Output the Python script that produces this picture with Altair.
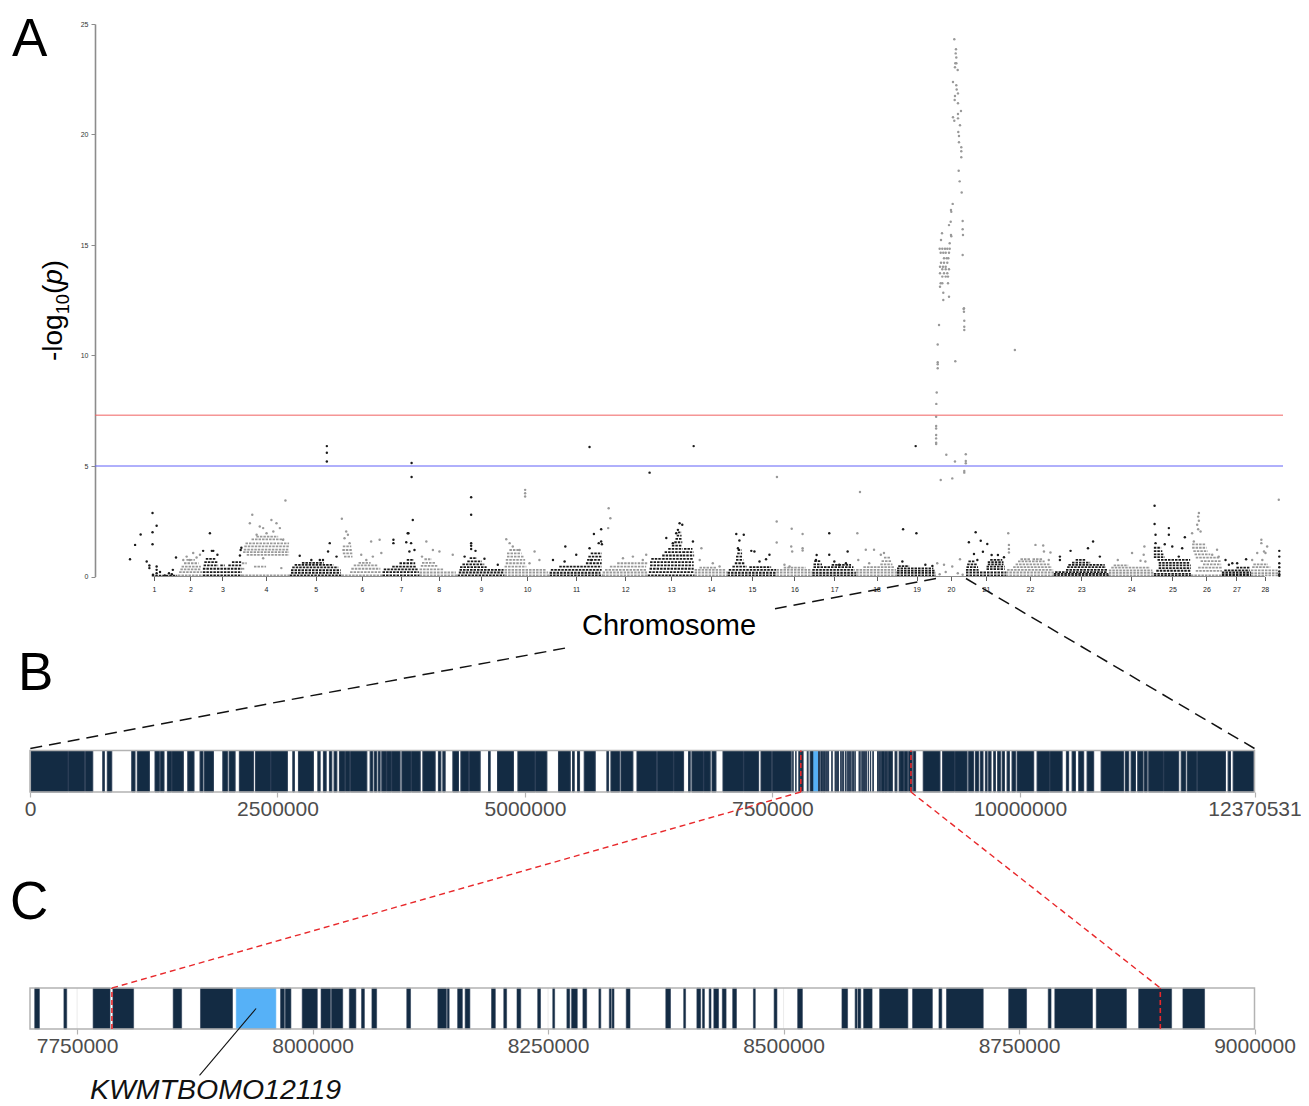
import altair as alt
import pandas as pd

# ======================= DATA =======================
CHROM_LEN_MB = [19.8, 10.3, 16.1, 19.8, 21.4, 16.9, 15.3, 15.7, 19.4, 18.6,
                21.9, 18.6, 19.4, 13.6, 20.2, 14.8, 18.1, 16.9, 16.1, 12.37,
                16.5, 19.8, 22.7, 18.6, 15.3, 12.8, 12.0, 11.5]
UNPLACED_LEN_MB = 0.5

# single SNPs (position in Mb within chromosome, -log10 p)
SNP_POINTS = {
    1: [(0.0, 0.78), (2.1, 1.43), (4.4, 1.9), (6.9, 0.68), (8.0, 0.5), (8.0, 0.38), (9.3, 2.87), (9.3, 2.0),
        (9.3, 1.46), (11.0, 2.3), (11.0, 0.45), (11.0, 0.3), (11.0, 0.15), (9.5, 0.08), (19.0, 0.86), (17.7, 0.3),
        (16.1, 0.15), (17.3, 0.1), (14.4, 0.05), (12.4, 0.2)],
    2: [(3.6, 0.9), (4.9, 0.75), (7.7, 0.86), (2.2, 0.75), (9.1, 0.98), (6.3, 1.06)],
    3: [(2.9, 1.96), (4.3, 1.16), (0.1, 1.16), (3.7, 1.16), (15.6, 1.2), (15.9, 1.3), (15.3, 0.95), (6.0, 0.98)],
    4: [(4.3, 2.79), (3.3, 2.41), (7.4, 2.26), (8.8, 2.19), (12.2, 2.56), (14.3, 2.41), (15.7, 2.19), (6.1, 1.89),
        (18.0, 3.44), (17.0, 1.66), (10.2, 1.96), (13.0, 2.04), (8.8, 0.83), (16.3, 0.38)],
    5: [(4.1, 0.94), (8.9, 0.75), (12.4, 0.75), (13.7, 0.75), (15.8, 1.13), (16.5, 1.51), (19.3, 0.9),
        (15.3, 5.9), (15.3, 5.6), (15.3, 5.2)],
    6: [(0.1, 2.61), (1.9, 2.04), (2.6, 1.89), (1.2, 1.73), (3.3, 1.51), (8.1, 0.98), (10.2, 0.75), (12.2, 1.58),
        (15.7, 1.66), (16.4, 1.06), (12.9, 0.9)],
    7: [(4.5, 1.66), (4.5, 1.51), (10.4, 1.96), (10.7, 1.96), (12.5, 2.56), (9.8, 1.55), (11.8, 1.51), (11.1, 1.13),
        (13.2, 1.2), (12.0, 5.14), (12.0, 4.5)],
    8: [(2.8, 1.58), (5.5, 1.2), (8.2, 1.13), (13.7, 0.98), (1.0, 0.9)],
    9: [(5.6, 3.59), (5.6, 2.79), (5.6, 1.51), (5.6, 1.39), (5.6, 1.24), (7.4, 1.16), (11.1, 0.8), (16.6, 0.53),
        (2.9, 0.9)],
    10: [(0.7, 1.69), (2.1, 1.51), (3.4, 1.36), (6.2, 1.2), (8.5, 3.92), (8.5, 3.77), (8.5, 3.62), (12.4, 1.13),
         (14.4, 0.75), (10.3, 0.6)],
    11: [(1.4, 0.75), (6.2, 0.68), (6.5, 1.36), (11.0, 0.98), (16.5, 1.28), (18.3, 1.92), (20.3, 1.51),
         (21.3, 2.14), (21.3, 1.58), (21.6, 1.46), (17.2, 0.75), (16.5, 5.86)],
    12: [(2.5, 3.09), (3.2, 2.64), (2.3, 2.19), (8.4, 0.83), (12.5, 0.9), (16.6, 0.75), (18.0, 0.98)],
    13: [(7.7, 1.74), (12.5, 2.11), (13.2, 2.41), (14.3, 2.34), (18.7, 1.58), (11.8, 1.96), (10.4, 1.51),
         (0.8, 4.7), (19.0, 5.9)],
    14: [(2.8, 1.28), (2.1, 0.75), (7.5, 0.6), (10.3, 0.45)],
    15: [(3.6, 1.92), (4.9, 1.63), (6.7, 1.89), (4.3, 1.28), (9.8, 1.16), (11.1, 1.13), (15.9, 0.78), (17.3, 0.98),
         (13.2, 0.68)],
    16: [(0.1, 2.49), (0.1, 1.54), (6.3, 2.16), (6.1, 1.36), (6.5, 1.13), (10.8, 1.92), (10.8, 1.28), (10.8, 1.18),
         (3.3, 0.53), (5.4, 0.45), (0.2, 4.5)],
    17: [(1.8, 0.97), (7.0, 1.96), (7.0, 0.98), (9.1, 0.68), (11.1, 0.53), (14.6, 1.13), (13.9, 0.6), (1.5, 0.75)],
    18: [(1.6, 3.82), (0.5, 1.96), (4.0, 1.21), (7.4, 1.21), (0.9, 0.75), (10.2, 0.98), (11.5, 1.06), (5.4, 0.6)],
    19: [(2.5, 2.14), (8.0, 1.96), (2.2, 0.68), (11.7, 0.53), (14.6, 0.48), (7.7, 5.9)],
    20: [(7.55, 24.31), (8.25, 23.86), (8.12, 23.67), (8.37, 23.48), (7.96, 23.22), (8.4, 23.22), (7.83, 23.04),
         (8.95, 22.92), (7.01, 22.38), (8.37, 22.23), (8.53, 22.04), (9.07, 21.86), (7.83, 21.74), (7.71, 21.56),
         (9.07, 21.41), (10.31, 21.06), (9.07, 20.93), (7.01, 20.78), (9.07, 20.73), (7.55, 20.62), (9.9, 20.42),
         (9.19, 20.11), (9.48, 19.93), (9.48, 19.65), (10.43, 19.42), (10.43, 19.24), (10.43, 18.97), (9.36, 18.36),
         (9.77, 17.88), (10.6, 17.38), (6.89, 16.86), (6.18, 16.58), (6.3, 16.5), (6.06, 16.05), (11.0, 16.09),
         (5.36, 15.9), (11.0, 15.71), (6.18, 15.45), (6.3, 15.4), (11.13, 15.45), (2.47, 15.53), (2.06, 15.23),
         (5.65, 15.08), (11.0, 14.55),
         (1.51, 14.83), (2.6, 14.83), (3.71, 14.83), (4.66, 14.83), (5.65, 14.83),
         (1.92, 14.65), (3.0, 14.65), (4.0, 14.65), (5.36, 14.65),
         (3.3, 14.4), (4.4, 14.4), (5.07, 14.4),
         (2.06, 14.2), (3.3, 14.2), (4.66, 14.2),
         (1.65, 14.02), (2.89, 14.02), (4.0, 14.02),
         (2.6, 13.9), (4.0, 13.9), (5.36, 13.9),
         (1.65, 13.72), (3.3, 13.72), (4.66, 13.72),
         (2.6, 13.57), (4.0, 13.57), (4.95, 13.57),
         (1.92, 13.27), (2.6, 13.27), (4.95, 13.27),
         (1.65, 13.11), (3.0, 12.84), (5.36, 12.66), (3.0, 12.51),
         (11.42, 12.1), (11.54, 12.14), (11.54, 11.98), (11.67, 11.57), (11.67, 11.3), (11.67, 11.15),
         (1.24, 11.38), (0.7, 10.5), (0.7, 9.7), (0.7, 9.6), (0.7, 9.42), (7.96, 9.74), (0.29, 8.33), (0.12, 7.81),
         (0.05, 7.23), (0.05, 6.81), (0.05, 6.7), (0.05, 6.4), (0.05, 6.25), (0.05, 6.05), (0.05, 6.0),
         (4.25, 5.51), (7.83, 5.2), (12.3, 5.53), (12.3, 5.23), (12.3, 5.12), (11.67, 4.77), (11.67, 4.7),
         (1.94, 4.37), (6.72, 4.44), (9.9, 0.78), (3.3, 0.53), (6.7, 0.45), (0.5, 0.6), (1.5, 0.1), (4.0, 0.2),
         (9.0, 0.15), (11.0, 0.08)],
    21: [(4.0, 2.0), (1.2, 1.55), (6.1, 1.62), (8.8, 1.47), (7.0, 1.12), (3.3, 1.02), (4.7, 0.75), (10.6, 0.97),
         (13.2, 0.97), (15.7, 0.87)],
    22: [(0.96, 1.96), (1.24, 1.43), (1.24, 1.25), (1.24, 1.09), (12.2, 1.43), (15.4, 1.4), (15.7, 1.13),
         (18.4, 1.09), (17.7, 0.75), (3.7, 10.25)],
    23: [(16.2, 1.58), (14.1, 1.28), (6.9, 1.16), (19.0, 0.9), (2.5, 0.9), (2.5, 0.75)],
    24: [(9.6, 1.06), (13.1, 0.71), (14.4, 0.98), (14.7, 1.36), (3.7, 0.75), (15.1, 0.68)],
    25: [(0.3, 3.2), (0.3, 2.38), (0.7, 1.89), (0.7, 1.51), (6.2, 2.19), (6.2, 1.89), (4.5, 1.46), (12.8, 1.78),
         (7.6, 1.36), (11.7, 1.28), (10.3, 0.9)],
    26: [(3.3, 2.87), (3.0, 2.71), (3.3, 2.52), (2.6, 2.34), (3.0, 2.14), (4.0, 2.04), (1.2, 1.58), (0.5, 1.96),
         (10.8, 1.21), (8.8, 0.98), (11.5, 0.9)],
    27: [(1.5, 0.75), (4.3, 0.6), (6.3, 0.6), (10.0, 0.78), (2.9, 0.53)],
    28: [(4.3, 1.66), (4.3, 1.51), (5.4, 1.13), (2.6, 1.06), (0.5, 0.75), (4.7, 0.75), (11.5, 3.47), (6.7, 1.36),
         (6.0, 1.06)],
    "U": [(0.2, 1.16), (0.2, 0.9), (0.2, 0.6), (0.2, 0.42), (0.2, 0.23), (0.2, 0.1), (0.2, 0.03)],
}

# runs of SNPs sharing one p-value (start Mb, end Mb, -log10 p)
SNP_ROWS = {
    1: [(9.0, 19.5, 0.04)],
    2: [(0.0, 10.3, 0.05), (0.5, 10.0, 0.2), (1.0, 9.5, 0.32), (1.5, 9.5, 0.45), (2.5, 8.5, 0.6), (3.5, 7.0, 0.75)],
    3: [(0.0, 16.1, 0.05), (0.0, 16.1, 0.2), (0.0, 16.1, 0.35), (0.3, 6.3, 0.5), (7.2, 9.0, 0.5), (10.5, 15.8, 0.5),
        (0.6, 6.0, 0.65), (12.0, 15.8, 0.65), (1.2, 5.2, 0.8)],
    4: [(0.0, 19.8, 0.05), (5.0, 10.0, 0.45), (0.0, 2.0, 0.6), (0.0, 1.0, 0.35), (2.0, 19.5, 0.98), (0.5, 19.5, 1.1),
        (0.8, 19.5, 1.22), (1.0, 19.5, 1.36), (1.5, 19.5, 1.5), (4.0, 17.5, 1.68), (6.0, 15.0, 1.8)],
    5: [(0.0, 21.4, 0.05), (0.5, 21.0, 0.17), (0.5, 21.0, 0.29), (1.0, 20.0, 0.41), (2.0, 18.0, 0.53), (5.0, 14.0, 0.62)],
    6: [(0.5, 4.0, 1.36), (0.3, 4.2, 1.2), (0.5, 4.5, 1.05), (1.0, 4.5, 0.9), (0.0, 16.9, 0.05), (3.5, 16.5, 0.2),
        (4.0, 16.0, 0.35), (5.0, 15.0, 0.5), (7.0, 12.0, 0.62)],
    7: [(0.0, 15.3, 0.05), (0.0, 15.0, 0.2), (0.5, 14.5, 0.32), (4.0, 14.0, 0.45), (7.0, 13.5, 0.6), (10.0, 13.0, 0.75)],
    8: [(0.0, 15.7, 0.05), (0.0, 15.0, 0.18), (0.0, 10.0, 0.32), (0.5, 7.5, 0.48), (1.0, 6.5, 0.62), (2.0, 5.0, 0.78)],
    9: [(0.0, 19.4, 0.05), (0.5, 19.0, 0.18), (0.8, 19.0, 0.3), (1.0, 12.0, 0.42), (2.0, 11.0, 0.55), (4.0, 10.0, 0.68),
        (5.0, 8.0, 0.83)],
    10: [(0.0, 18.6, 0.05), (0.0, 18.0, 0.18), (0.0, 17.0, 0.3), (0.0, 9.0, 0.45), (0.5, 8.5, 0.6), (0.5, 8.5, 0.75),
         (1.0, 8.0, 0.9), (1.0, 7.0, 1.05), (2.0, 6.0, 1.2)],
    11: [(0.0, 21.9, 0.05), (0.0, 21.0, 0.17), (0.5, 21.5, 0.3), (4.0, 21.5, 0.45), (15.0, 21.5, 0.6),
         (15.5, 21.5, 0.75), (16.0, 21.5, 0.9), (17.0, 21.5, 1.05)],
    12: [(0.0, 18.6, 0.05), (0.0, 18.5, 0.18), (1.0, 18.0, 0.3), (3.0, 18.0, 0.45), (6.0, 14.0, 0.6), (14.5, 18.5, 0.6)],
    13: [(0.0, 19.4, 0.05), (0.5, 19.0, 0.2), (0.8, 19.0, 0.35), (1.0, 19.0, 0.5), (1.0, 19.0, 0.65), (1.5, 6.0, 0.8),
         (6.0, 19.0, 0.8), (6.0, 14.5, 0.95), (7.0, 14.5, 1.1), (8.5, 14.5, 1.25), (10.0, 14.3, 1.4),
         (11.0, 14.3, 1.55), (11.5, 14.2, 1.7), (12.0, 14.0, 1.85), (12.5, 14.0, 2.0), (14.5, 19.2, 0.95),
         (14.5, 19.0, 1.1), (15.0, 18.5, 1.25)],
    14: [(0.0, 13.6, 0.05), (0.0, 13.6, 0.18), (0.0, 13.0, 0.3), (2.0, 9.0, 0.4)],
    15: [(0.0, 20.2, 0.05), (0.0, 20.0, 0.17), (0.5, 20.0, 0.3), (2.0, 8.0, 0.45), (9.0, 18.0, 0.42), (3.0, 7.0, 0.6),
         (3.5, 6.5, 0.75), (3.5, 6.3, 0.9), (4.0, 6.0, 1.05), (4.2, 5.8, 1.2)],
    16: [(0.0, 14.8, 0.05), (0.0, 14.8, 0.18), (0.0, 14.0, 0.3), (3.0, 12.0, 0.4)],
    17: [(0.0, 18.1, 0.05), (0.0, 18.0, 0.17), (0.0, 17.5, 0.3), (0.5, 17.0, 0.42), (0.5, 4.0, 0.55),
         (8.0, 16.0, 0.53), (0.8, 3.5, 0.7)],
    18: [(0.0, 16.9, 0.05), (0.0, 16.9, 0.18), (0.0, 16.5, 0.3), (3.0, 16.0, 0.42), (10.0, 15.0, 0.55),
         (10.5, 14.5, 0.7), (11.5, 14.0, 0.85)],
    19: [(0.0, 16.1, 0.05), (0.0, 16.0, 0.17), (0.0, 15.5, 0.27), (0.0, 15.0, 0.37), (0.5, 5.0, 0.47)],
    20: [],
    21: [(0.0, 16.5, 0.05), (0.0, 16.5, 0.18), (0.0, 5.2, 0.3), (0.2, 5.0, 0.42), (0.5, 4.5, 0.55), (1.0, 3.5, 0.68),
         (8.5, 16.0, 0.33), (8.5, 16.0, 0.45), (9.0, 15.5, 0.55), (9.0, 15.5, 0.65), (10.0, 15.0, 0.75)],
    22: [(0.0, 19.8, 0.05), (0.0, 19.8, 0.18), (0.5, 19.5, 0.3), (3.0, 19.0, 0.42), (4.0, 18.0, 0.55),
         (5.0, 16.0, 0.68), (6.0, 10.0, 0.78), (11.0, 15.0, 0.78)],
    23: [(0.0, 22.7, 0.05), (0.0, 22.5, 0.12), (0.5, 22.0, 0.2), (5.0, 22.0, 0.3), (5.5, 21.5, 0.42),
         (6.0, 21.0, 0.53), (7.5, 15.0, 0.63), (9.0, 13.0, 0.75)],
    24: [(0.0, 18.6, 0.05), (0.0, 18.6, 0.17), (0.0, 18.0, 0.28), (1.0, 17.0, 0.4), (2.0, 8.0, 0.5)],
    25: [(0.0, 3.0, 1.3), (0.0, 3.5, 1.15), (0.0, 4.0, 1.0), (0.0, 4.5, 0.88), (1.5, 15.0, 0.75), (2.0, 15.0, 0.62),
         (2.0, 15.3, 0.5), (2.0, 15.3, 0.38), (1.0, 15.3, 0.26), (0.0, 15.3, 0.12), (0.0, 15.3, 0.03)],
    26: [(0.5, 6.0, 1.45), (0.5, 6.5, 1.3), (1.0, 7.0, 1.15), (1.5, 8.0, 1.0), (2.0, 12.0, 0.85), (4.0, 12.5, 0.7),
         (5.0, 12.5, 0.55), (0.0, 12.8, 0.05), (2.0, 12.8, 0.25), (3.0, 12.8, 0.4)],
    27: [(0.0, 12.0, 0.03), (0.0, 12.0, 0.1), (0.0, 12.0, 0.18), (1.0, 11.5, 0.28), (6.0, 11.5, 0.4)],
    28: [(0.0, 11.5, 0.05), (0.0, 11.5, 0.15), (0.0, 11.0, 0.28), (0.5, 8.0, 0.42), (1.0, 7.0, 0.55)],
}

SUGGESTIVE_LINE = 5.0
GENOMEWIDE_LINE = 7.3
Y_TICKS_A = [0, 5, 10, 15, 20, 25]

CHR20_LEN = 12370531
CHR20_TICKS = [0, 2500000, 5000000, 7500000, 10000000, 12370531]
# genes on chromosome 20 (start kb, end kb)
GENES_KB = [
    (10, 385), (389, 554), (558, 634), (735, 751), (781, 826), (1028, 1061), (1084, 1206), (1263, 1307),
    (1317, 1354), (1388, 1430), (1434, 1549), (1594, 1657), (1718, 1748), (1762, 1853), (1948, 1994),
    (2011, 2072), (2115, 2257), (2277, 2430), (2434, 2600), (2655, 2671), (2712, 2863), (2908, 2931),
    (2964, 2992), (3025, 3049), (3072, 3100), (3126, 3182), (3186, 3232), (3236, 3403), (3436, 3464),
    (3480, 3504), (3520, 3537), (3554, 3600), (3604, 3650), (3654, 3739), (3757, 3850), (3854, 3942),
    (3969, 4093), (4126, 4151), (4171, 4194), (4272, 4329), (4353, 4430), (4440, 4548), (4632, 4649),
    (4723, 4884), (4929, 5102), (5106, 5222), (5339, 5458), (5481, 5498), (5531, 5552), (5599, 5710),
    (5828, 5845), (5869, 5956), (5970, 6091), (6132, 6332), (6336, 6500), (6504, 6603), (6653, 6670),
    (6687, 6803), (6807, 6872), (6890, 6930), (7001, 7207), (7211, 7361), (7385, 7494), (7498, 7690),
    (7705, 7710), (7736, 7739), (7767, 7785), (7788, 7810), (7852, 7861), (7881, 7915), (7919, 7961),
    (7966, 7970), (7971, 7977), (7989, 8005), (8009, 8019), (8020, 8032), (8039, 8046), (8052, 8055),
    (8063, 8068), (8100, 8104), (8133, 8142), (8143, 8145), (8154, 8159), (8162, 8167), (8190, 8194),
    (8203, 8206), (8217, 8221), (8239, 8242), (8255, 8257), (8270, 8273), (8275, 8281), (8287, 8291),
    (8304, 8306), (8315, 8317), (8318, 8320), (8333, 8337), (8375, 8380), (8394, 8396), (8408, 8412),
    (8414, 8416), (8421, 8423), (8426, 8431), (8435, 8439), (8446, 8450), (8468, 8470), (8490, 8493),
    (8515, 8520), (8562, 8568), (8576, 8578), (8579, 8582), (8585, 8594), (8602, 8632), (8637, 8658),
    (8665, 8668), (8673, 8712), (8739, 8758), (8781, 8784), (8788, 8828), (8832, 8864), (8877, 8912),
    (8924, 8947), (9024, 9193), (9220, 9340), (9344, 9467), (9483, 9533), (9551, 9584), (9601, 9628),
    (9652, 9669), (9685, 9709), (9736, 9753), (9776, 9803), (9821, 9844), (9871, 9894), (9921, 9955),
    (9972, 10140), (10174, 10300), (10304, 10427), (10470, 10493), (10528, 10561), (10595, 10645),
    (10679, 10746), (10821, 11050), (11067, 11100), (11124, 11168), (11191, 11245), (11259, 11286),
    (11302, 11450), (11454, 11605), (11630, 11673), (11690, 11789), (11793, 12077), (12104, 12128),
    (12155, 12363),
]
TARGET_GENE = "KWMTBOMO12119"
TARGET_GENE_KB = (7919, 7961)
REGION_BP = [7787000, 8900000]
ZOOM_DOMAIN = [7700000, 9000000]
ZOOM_TICKS = [7750000, 8000000, 8250000, 8500000, 8750000, 9000000]

# ======================= LAYOUT =======================
W, H = 1293, 1096
FONT = "Liberation Sans"
BLACK_SNP, GREY_SNP = "#1a1a1a", "#999999"
NAVY, SKY = "#132B43", "#56B1F7"
NAVY_EDGE = "#2a3d55"

A_LEFT, A_RIGHT = 87, 1275
A_DATA_L, A_DATA_R = 122, 1272
A_Y0, A_Y25 = 568.5, 16.0
B_LEFT, B_RIGHT, B_TOP, B_BOT = 22, 1246.5, 742.5, 784
C_LEFT, C_RIGHT, C_TOP, C_BOT = 22, 1246.5, 980, 1021

# ======================= TABLES =======================
offsets = {}
acc = 0.0
for i, L in enumerate(CHROM_LEN_MB, start=1):
    offsets[i] = acc
    acc += L
offsets["U"] = acc
TOTAL = acc + UNPLACED_LEN_MB
centers = [offsets[i] + CHROM_LEN_MB[i - 1] / 2 for i in range(1, 29)]


def snp_col(k):
    return GREY_SNP if (k != "U" and k % 2 == 0) else BLACK_SNP


pts_df = pd.DataFrame([dict(cum=offsets[k] + p, logp=y, col=snp_col(k))
                       for k, lst in SNP_POINTS.items() for p, y in lst])
rows_df = pd.DataFrame([dict(cum=offsets[k] + s, cum2=offsets[k] + e, logp=y, col=snp_col(k))
                        for k, lst in SNP_ROWS.items() for s, e, y in lst])

mbpp = TOTAL / (A_DATA_R - A_DATA_L)
A_DOM = [-(A_DATA_L - A_LEFT) * mbpp, TOTAL + (A_RIGHT - A_DATA_R) * mbpp]
XA = alt.Scale(domain=A_DOM, range=[A_LEFT, A_RIGHT], nice=False, zero=False)
YA = alt.Scale(domain=[0, 25], range=[A_Y0, A_Y25], nice=False, zero=False)
XB = alt.Scale(domain=[0, CHR20_LEN], range=[B_LEFT, B_RIGHT], nice=False, zero=False)
YB = alt.Scale(domain=[0, 1], range=[B_BOT, B_TOP], nice=False, zero=False)
XC = alt.Scale(domain=ZOOM_DOMAIN, range=[C_LEFT, C_RIGHT], nice=False, zero=False)
YC = alt.Scale(domain=[0, 1], range=[C_BOT, C_TOP], nice=False, zero=False)


def ax(v):
    return A_LEFT + (v - A_DOM[0]) / (A_DOM[1] - A_DOM[0]) * (A_RIGHT - A_LEFT)


def ay(v):
    return A_Y0 + v / 25 * (A_Y25 - A_Y0)


def bx(v):
    return B_LEFT + v / CHR20_LEN * (B_RIGHT - B_LEFT)


def cx(v):
    return C_LEFT + (v - ZOOM_DOMAIN[0]) / (ZOOM_DOMAIN[1] - ZOOM_DOMAIN[0]) * (C_RIGHT - C_LEFT)


one = pd.DataFrame({"k": [0]})

# ======================= PANEL A =======================
codes = [int(round(c * 100)) for c in centers]
label_expr = "indexof([" + ",".join(str(c) for c in codes) + "], round(datum.value*100)) + 1"

rows_layer = alt.Chart(rows_df).mark_rule(strokeWidth=1.8, strokeDash=[2.5, 1]).encode(
    x=alt.X("cum:Q", scale=XA, axis=alt.Axis(
        orient="bottom", offset=-(H - A_Y0), values=[c / 100 for c in codes], labelExpr=label_expr,
        domain=False, grid=False, tickSize=4, tickColor="#333333", tickWidth=0.8,
        labelFontSize=7, labelColor="#222222", labelFont=FONT, labelPadding=5,
        labelFlush=False, labelOverlap=False, title=None)),
    x2="cum2:Q",
    y=alt.Y("logp:Q", scale=YA, axis=alt.Axis(
        orient="left", offset=-A_LEFT, values=Y_TICKS_A, domainColor="#8c8c8c", domainWidth=1.6,
        tickColor="#8c8c8c", tickSize=4, tickWidth=1, labelFontSize=7, labelColor="#333333",
        labelFont=FONT, labelPadding=3, grid=False, title=None, labelFlush=False)),
    color=alt.Color("col:N", scale=None),
)

pts_layer = alt.Chart(pts_df).mark_circle(size=6, opacity=1).encode(
    x=alt.X("cum:Q", scale=XA, axis=None),
    y=alt.Y("logp:Q", scale=YA, axis=None),
    color=alt.Color("col:N", scale=None),
)

thr_df = pd.DataFrame({"x0": [A_DOM[0]] * 2, "x1": [A_DOM[1]] * 2,
                       "y": [GENOMEWIDE_LINE, SUGGESTIVE_LINE], "col": ["#f06060", "#6060f8"]})
thr_layer = alt.Chart(thr_df).mark_rule(strokeWidth=1).encode(
    x=alt.X("x0:Q", scale=XA, axis=None), x2="x1:Q",
    y=alt.Y("y:Q", scale=YA, axis=None), color=alt.Color("col:N", scale=None))

axis_line_df = pd.DataFrame({"x0": [centers[0]], "x1": [centers[-1]], "y": [0]})
axis_line = alt.Chart(axis_line_df).mark_rule(strokeWidth=1.2, color="#8c8c8c").encode(
    x=alt.X("x0:Q", scale=XA, axis=None), x2="x1:Q", y=alt.Y("y:Q", scale=YA, axis=None))

# ======================= PANEL B / C =======================
genes_df = pd.DataFrame([dict(s=a * 1000, e=b * 1000, lo=0, hi=1,
                              col=SKY if (a, b) == TARGET_GENE_KB else NAVY,
                              edge=SKY if (a, b) == TARGET_GENE_KB else NAVY_EDGE) for a, b in GENES_KB])
zoom_genes = genes_df[(genes_df.e > ZOOM_DOMAIN[0]) & (genes_df.s < ZOOM_DOMAIN[1])].copy()
zoom_genes["s"] = zoom_genes["s"].clip(lower=ZOOM_DOMAIN[0])
zoom_genes["e"] = zoom_genes["e"].clip(upper=ZOOM_DOMAIN[1])


def axis_bc(vals, ybot):
    return alt.Axis(orient="bottom", offset=-(H - ybot), values=vals, format="d", domain=False, grid=False,
                    tickSize=5, tickColor="#b3b3b3", tickWidth=1.2, labelFontSize=21, labelColor="#4d4d4d",
                    labelFont=FONT, labelPadding=1, labelFlush=False, labelOverlap=False, title=None)


def panel(genes, xs, ys, ticks, ybot, xmin, xmax, edge_w):
    grid_df = pd.DataFrame({"x": ticks, "lo": 0, "hi": 1})
    grid = alt.Chart(grid_df).mark_rule(color="#e3e3e3", strokeWidth=0.7).encode(
        x=alt.X("x:Q", scale=xs, axis=None), y=alt.Y("lo:Q", scale=ys, axis=None), y2="hi:Q")
    bars = alt.Chart(genes).mark_rect(strokeWidth=edge_w).encode(
        x=alt.X("s:Q", scale=xs, axis=None), x2="e:Q",
        y=alt.Y("lo:Q", scale=ys, axis=None), y2="hi:Q",
        color=alt.Color("col:N", scale=None),
        stroke=alt.Stroke("edge:N", scale=None))
    box_df = pd.DataFrame({"s": [xmin], "e": [xmax], "lo": [0], "hi": [1]})
    box = alt.Chart(box_df).mark_rect(fillOpacity=0, stroke="#b3b3b3", strokeWidth=1.5).encode(
        x=alt.X("s:Q", scale=xs, axis=axis_bc(ticks, ybot)), x2="e:Q",
        y=alt.Y("lo:Q", scale=ys, axis=None), y2="hi:Q")
    reg_df = pd.DataFrame({"x": REGION_BP, "lo": 0, "hi": 1})
    reg = alt.Chart(reg_df).mark_rule(color="#e8282b", strokeWidth=1.6, strokeDash=[5, 3]).encode(
        x=alt.X("x:Q", scale=xs, axis=None), y=alt.Y("lo:Q", scale=ys, axis=None), y2="hi:Q")
    return [grid, bars, box, reg]


panel_b = panel(genes_df, XB, YB, CHR20_TICKS, B_BOT, 0, CHR20_LEN, 1.0)
panel_c = panel(zoom_genes, XC, YC, ZOOM_TICKS, C_BOT, ZOOM_DOMAIN[0], ZOOM_DOMAIN[1], 0.6)

gene_mid = (TARGET_GENE_KB[0] + TARGET_GENE_KB[1]) / 2 * 1000
lead_df = pd.DataFrame({"x": [gene_mid], "y": [0.5], "x2": [7880000], "y2": [-1.13]})
leader = alt.Chart(lead_df).mark_rule(color="#111111", strokeWidth=1.1).encode(
    x=alt.X("x:Q", scale=XC, axis=None), x2="x2:Q", y=alt.Y("y:Q", scale=YC, axis=None), y2="y2:Q")
lab_df = pd.DataFrame({"x": [7897000], "y": [-1.71], "t": [TARGET_GENE]})
gene_label = alt.Chart(lab_df).mark_text(fontSize=28.5, font=FONT, fontStyle="italic", align="center",
                                         baseline="alphabetic", color="#111111").encode(
    x=alt.X("x:Q", scale=XC, axis=None), y=alt.Y("y:Q", scale=YC, axis=None), text="t:N")


# ======================= CONNECTORS =======================
def seg(x1, y1, x2, y2, color, dash, width=1.5):
    return alt.Chart(one).mark_rule(color=color, strokeDash=dash, strokeWidth=width).encode(
        x=alt.value(x1), y=alt.value(y1), x2=alt.value(x2), y2=alt.value(y2))


c20s, c20e = offsets[20], offsets[20] + CHROM_LEN_MB[19]
p1 = (ax(c20s), ay(0) + 2)
p2 = (bx(0), B_TOP - 2)
gap_hi, gap_lo = 767, 557
ta = (p1[0] - gap_hi) / (p1[0] - p2[0])
tb = (p1[0] - gap_lo) / (p1[0] - p2[0])


def lerp(t):
    return (p1[0] + (p2[0] - p1[0]) * t, p1[1] + (p2[1] - p1[1]) * t)


qa, qb = lerp(ta), lerp(tb)
connectors = [
    seg(p1[0], p1[1], qa[0], qa[1], "#111111", [12, 7]),
    seg(qb[0], qb[1], p2[0], p2[1], "#111111", [12, 7]),
    seg(ax(c20e), ay(0) + 2, bx(CHR20_LEN), B_TOP - 2, "#111111", [12, 7]),
]
for r in REGION_BP:
    connectors.append(seg(bx(r), B_BOT, cx(r), C_TOP, "#e8282b", [6, 4], 1.4))


# ======================= TEXT =======================
def txt(s, x, y, size, align="left", angle=0, style="normal", baseline="alphabetic"):
    return alt.Chart(one).mark_text(text=s, fontSize=size, font=FONT, align=align, angle=angle,
                                    fontStyle=style, baseline=baseline, color="#000000").encode(
        x=alt.value(x), y=alt.value(y))


texts = [
    txt("A", 4, 48, 53), txt("B", 10, 682, 53), txt("C", 2, 911, 53),
    txt("Chromosome", 661, 627, 29, align="center"),
]
F = 28
yb = 353
bx0 = 54
pieces = [("-log", F, 0, "normal", 1.667 * F), ("10", 0.65 * F, 7, "normal", 1.112 * 0.65 * F),
          ("(", F, 0, "normal", 0.333 * F), ("p", F, 0, "italic", 0.556 * F), (")", F, 0, "normal", 0.333 * F)]
cur = yb
for s, size, dx, style, wdt in pieces:
    texts.append(txt(s, bx0 + dx, cur, size, angle=270, style=style))
    cur -= wdt

# ======================= ASSEMBLE =======================
layers = [rows_layer, pts_layer, thr_layer, axis_line] + panel_b + panel_c + [leader, gene_label] \
    + connectors + texts
chart = alt.layer(*layers).resolve_scale(x="independent", y="independent").properties(
    width=W, height=H, padding=0, autosize=alt.AutoSizeParams(type="none")
).configure_view(strokeWidth=0)

chart.save("out.html", embed_options={"renderer": "svg", "actions": False})
